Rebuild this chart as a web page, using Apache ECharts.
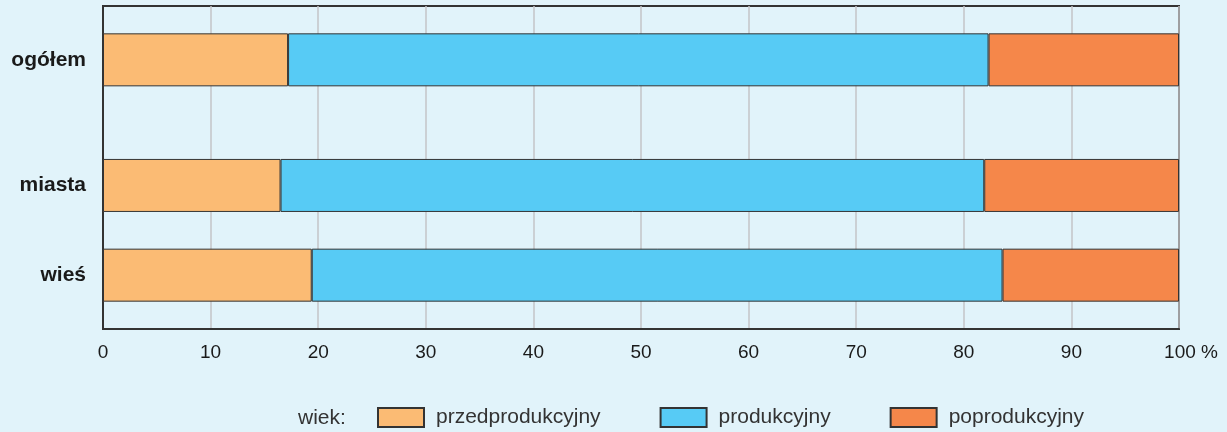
<!DOCTYPE html>
<html>
<head>
<meta charset="utf-8">
<script src="https://cdn.jsdelivr.net/npm/echarts@6/dist/echarts.min.js"></script>
<style>
html,body{margin:0;padding:0;background:#e1f3fa;}
#c{width:1227px;height:432px;}
</style>
</head>
<body>
<div id="c"></div>
<script>
// Data
const categories = ['ogółem', 'miasta', 'wieś'];
const przedprodukcyjny = [17.2, 16.5, 19.4];
const produkcyjny = [65.1, 65.4, 64.2];
const poprodukcyjny = [17.7, 18.1, 16.4];
const seriesNames = ['przedprodukcyjny', 'produkcyjny', 'poprodukcyjny'];
const xTicks = [0, 10, 20, 30, 40, 50, 60, 70, 80, 90, 100];

// Layout: category slots on the y axis (bottom = 0)
const slotCount = 19;
const slotOfCategory = { 'ogółem': 15, 'miasta': 8, 'wieś': 3 };

const yCats = new Array(slotCount).fill('');
categories.forEach(c => { yCats[slotOfCategory[c]] = c; });

function toSlots(values) {
  const arr = new Array(slotCount).fill('-');
  categories.forEach((c, i) => { arr[slotOfCategory[c]] = values[i]; });
  return arr;
}

const colors = ['#fbbb74', '#57cbf5', '#f5874a'];
const FONT = "'Liberation Sans', Arial, sans-serif";
const chart = echarts.init(document.getElementById('c'));

const valuesList = [przedprodukcyjny, produkcyjny, poprodukcyjny];

chart.setOption({
  backgroundColor: '#e1f3fa',
  animation: false,
  grid: {
    left: 103, right: 48, top: 6, bottom: 103,
    show: true, borderColor: '#333', borderWidth: 2,
    backgroundColor: 'transparent'
  },
  xAxis: {
    type: 'value', min: xTicks[0], max: xTicks[xTicks.length - 1], interval: 10,
    axisLine: { show: true, lineStyle: { color: '#333', width: 2 } },
    axisTick: { show: false },
    splitLine: { show: true, lineStyle: { color: '#c3c5c7', width: 1.5 } },
    axisLabel: {
      margin: 14,
      fontFamily: FONT, fontSize: 19, color: '#1a1a1a',
      formatter: v => v === 100 ? '{p|100 %}' : String(v),
      rich: { p: { fontFamily: FONT, fontSize: 19, color: '#1a1a1a', padding: [0, 0, 0, 24] } }
    }
  },
  yAxis: {
    type: 'category', data: yCats, boundaryGap: false,
    axisLine: { show: true, lineStyle: { color: '#333', width: 2 } },
    axisTick: { show: false },
    splitLine: { show: false },
    axisLabel: {
      interval: 0, margin: 17,
      fontFamily: FONT, fontSize: 21, fontWeight: 'bold', color: '#1a1a1a'
    }
  },
  legend: {
    left: 372, top: 402,
    itemWidth: 46, itemHeight: 19, itemGap: 59,
    icon: 'rect',
    data: seriesNames,
    textStyle: { fontFamily: FONT, fontSize: 21, color: '#333', padding: [0, 0, 0, 7] },
    selectedMode: false
  },
  graphic: [{
    type: 'text', left: 298, top: 408,
    style: { text: 'wiek:', fontFamily: FONT, fontSize: 21, fill: '#333' }
  }],
  series: seriesNames.map((name, i) => ({
    name: name,
    type: 'bar',
    stack: 'total',
    barWidth: 53,
    data: toSlots(valuesList[i]),
    itemStyle: { color: colors[i], borderColor: '#333', borderWidth: 1 }
  }))
});
</script>
</body>
</html>
